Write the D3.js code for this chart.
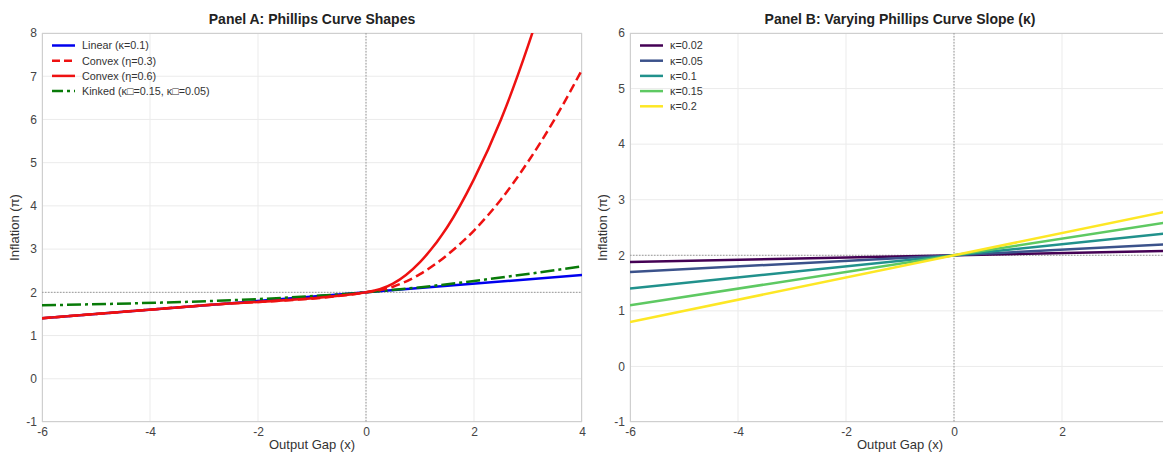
<!DOCTYPE html>
<html>
<head>
<meta charset="utf-8">
<script src="https://cdn.jsdelivr.net/npm/d3@7"></script>
<style>
  html, body { margin: 0; padding: 0; background: #fff; }
  svg { display: block; font-family: "Liberation Sans", Arial, sans-serif; }
</style>
</head>
<body>
<svg id="chart" width="1163" height="452"></svg>
<script>
// ---- Panel A data: Phillips curve shapes ----
const linearX = [-6, 4];
const linearY = [1.4, 2.4];

const convexX = [-6, -3, 0, 0.5, 1, 1.5, 2, 2.5, 3, 3.5, 4];
const convex03Y = [1.4, 1.7, 2.0, 2.13, 2.42, 2.86, 3.43, 4.15, 5.02, 6.02, 7.15];
const convex06Y = [1.4, 1.7, 2.0, 2.2, 2.7, 3.5, 4.62, 6.0, 7.7, 9.7, 12.0];

const kinkedX = [-6, 0, 4];
const kinkedY = [1.7, 2.0, 2.6];

const panelALabels = ["Linear (κ=0.1)", "Convex (η=0.3)", "Convex (η=0.6)", "Kinked (κ□=0.15, κ□=0.05)"];

// ---- Panel B data: slope variations through (0, 2) ----
const slopeLabels = ["κ=0.02", "κ=0.05", "κ=0.1", "κ=0.15", "κ=0.2"];
const slopeX = [-6, 4];
const slopeLeftY = [1.88, 1.70, 1.40, 1.10, 0.80];
const slopeRightY = [2.08, 2.20, 2.40, 2.60, 2.80];
const slopeColors = ["#440154", "#3b528b", "#21918c", "#5ec962", "#fde725"];

// ---- Axis ticks ----
const xTicksA = [-6, -4, -2, 0, 2, 4];
const xTicksB = [-6, -4, -2, 0, 2];
const yTicksA = [-1, 0, 1, 2, 3, 4, 5, 6, 7, 8];
const yTicksB = [-1, 0, 1, 2, 3, 4, 5, 6];

const svg = d3.select("#chart");
const plainFmt = d => String(d);   // hyphen-minus, as printed on the axes

function panel(opts) {
  const { left, right, top, bottom, yDomain, xTicks, yTicks, title, id } = opts;
  const x = d3.scaleLinear().domain([-6, 4]).range([left, right]);
  const y = d3.scaleLinear().domain(yDomain).range([bottom, top]);
  const g = svg.append("g");

  g.append("clipPath").attr("id", id)
    .append("rect").attr("x", left).attr("y", top)
    .attr("width", right - left).attr("height", bottom - top);

  // grid
  const grid = g.append("g").attr("stroke", "#ebebeb").attr("stroke-width", 1);
  grid.selectAll("line.gx").data(xTicks).join("line")
    .attr("x1", d => x(d)).attr("x2", d => x(d))
    .attr("y1", top).attr("y2", bottom);
  grid.selectAll("line.gy").data(yTicks).join("line")
    .attr("x1", left).attr("x2", right)
    .attr("y1", d => y(d)).attr("y2", d => y(d));

  // axes (labels only, no tick marks)
  const xAxis = g.append("g").attr("transform", `translate(0,${bottom})`)
    .call(d3.axisBottom(x).tickValues(xTicks).tickSize(0).tickPadding(5).tickFormat(plainFmt));
  const yAxis = g.append("g").attr("transform", `translate(${left},0)`)
    .call(d3.axisLeft(y).tickValues(yTicks).tickSize(0).tickPadding(5).tickFormat(plainFmt));
  [xAxis, yAxis].forEach(a => {
    a.select(".domain").remove();
    a.selectAll("text").attr("fill", "#444").style("font-size", "12px")
      .style("font-family", "'Liberation Sans', Arial, sans-serif");
  });

  // frame
  g.append("rect").attr("x", left + 0.5).attr("y", top + 0.5)
    .attr("width", right - left - 1).attr("height", bottom - top - 1)
    .attr("fill", "none").attr("stroke", "#cfcfcf").attr("stroke-width", 1);

  // reference lines at x=0 and pi=2
  const ref = g.append("g").attr("stroke", "#999").attr("stroke-width", 1)
    .attr("stroke-dasharray", "1.5,1.5");
  ref.append("line").attr("x1", x(0)).attr("x2", x(0)).attr("y1", top).attr("y2", bottom);
  ref.append("line").attr("x1", left).attr("x2", right).attr("y1", y(2)).attr("y2", y(2));

  // title & axis labels
  g.append("text").attr("x", (left + right) / 2).attr("y", 24)
    .attr("text-anchor", "middle").attr("font-weight", "bold")
    .attr("font-size", 14).attr("fill", "#222").text(title);
  g.append("text").attr("x", (left + right) / 2).attr("y", 449)
    .attr("text-anchor", "middle").attr("font-size", 13).attr("fill", "#333")
    .text("Output Gap (x)");
  g.append("text").attr("transform", `translate(${left - 23},${(top + bottom) / 2}) rotate(-90)`)
    .attr("text-anchor", "middle").attr("font-size", 13).attr("fill", "#333")
    .text("Inflation (π)");

  const plot = g.append("g").attr("clip-path", `url(#${id})`);
  return { x, y, g, plot };
}

// ---------- Panel A ----------
const A = panel({ id: "clipA", left: 42, right: 582, top: 33, bottom: 422,
  yDomain: [-1, 8], xTicks: xTicksA, yTicks: yTicksA, title: "Panel A: Phillips Curve Shapes" });

const lineA = (xs) => d3.line().x((d, i) => A.x(xs[i])).y(d => A.y(d)).curve(d3.curveMonotoneX);

const seriesA = [
  { xs: linearX, ys: linearY, color: "#0000ee", dash: null },
  { xs: convexX, ys: convex03Y, color: "#ee1111", dash: "9,4.5" },
  { xs: convexX, ys: convex06Y, color: "#ee1111", dash: null },
  { xs: kinkedX, ys: kinkedY, color: "#087a08", dash: "14,4,3,4" }
];
// draw the linear curve underneath the convex ones
[0, 3, 2, 1].forEach(i => {
  const s = seriesA[i];
  A.plot.append("path").attr("d", lineA(s.xs)(s.ys))
    .attr("fill", "none").attr("stroke", s.color).attr("stroke-width", 2.5)
    .attr("stroke-dasharray", s.dash);
});

const legA = A.g.append("g");
seriesA.forEach((s, i) => {
  const yy = 45.5 + i * 15.2;
  legA.append("line").attr("x1", 52).attr("x2", 75).attr("y1", yy).attr("y2", yy)
    .attr("stroke", s.color).attr("stroke-width", 2.5)
    .attr("stroke-dasharray", i === 1 ? "8,4" : i === 3 ? "11,4,3,4" : null);
  legA.append("text").attr("x", 82).attr("y", yy + 3.8)
    .attr("font-size", 10.8).attr("fill", "#333").text(panelALabels[i]);
});

// ---------- Panel B ----------
const B = panel({ id: "clipB", left: 630, right: 1170, top: 33, bottom: 422,
  yDomain: [-1, 6], xTicks: xTicksB, yTicks: yTicksB, title: "Panel B: Varying Phillips Curve Slope (κ)" });

slopeLabels.forEach((lab, i) => {
  const pts = [slopeLeftY[i], slopeRightY[i]];
  B.plot.append("path")
    .attr("d", d3.line().x((d, j) => B.x(slopeX[j])).y(d => B.y(d))(pts))
    .attr("fill", "none").attr("stroke", slopeColors[i]).attr("stroke-width", 2.5);
});

const legB = B.g.append("g");
slopeLabels.forEach((lab, i) => {
  const yy = 45.5 + i * 15.2;
  legB.append("line").attr("x1", 640).attr("x2", 663).attr("y1", yy).attr("y2", yy)
    .attr("stroke", slopeColors[i]).attr("stroke-width", 2.5);
  legB.append("text").attr("x", 670).attr("y", yy + 3.8)
    .attr("font-size", 10.8).attr("fill", "#333").text(lab);
});
</script>
</body>
</html>
